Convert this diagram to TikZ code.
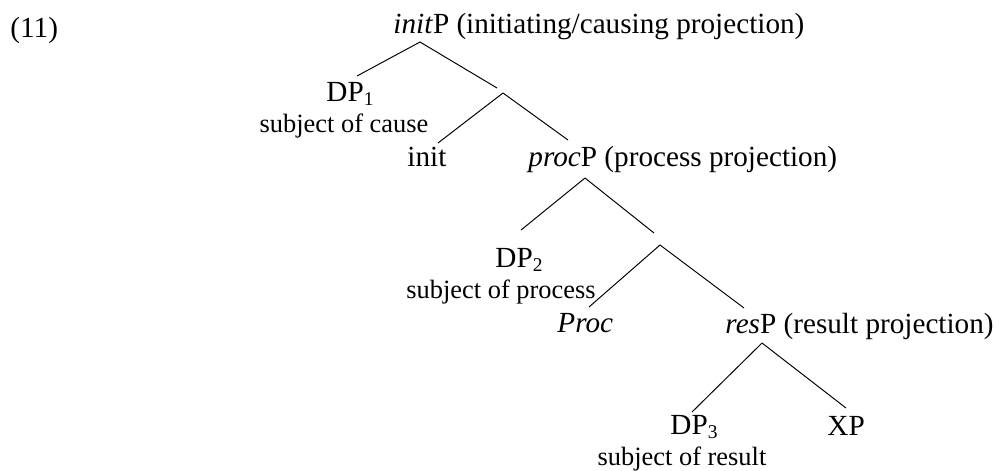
\documentclass[tikz,border=0pt]{standalone}
\usepackage{fontspec}
\setmainfont{Liberation Serif}
\begin{document}
\begin{tikzpicture}[x=0.411pt, y=-0.411pt,
    lbl/.style={inner sep=0pt, anchor=base west, font=\fontsize{12}{14}\selectfont},
    gloss/.style={inner sep=0pt, anchor=base, font=\fontsize{10.85}{13}\selectfont},
    branch/.style={line width=0.4pt},]

        \useasboundingbox (0,0) rectangle (999,470);

        % Branching points of the tree
        \coordinate (initTop) at (420,42);
        \coordinate (bar1Top) at (503,93);
        \coordinate (procTop) at (585,178);
        \coordinate (bar2Top) at (660,245);
        \coordinate (resTop) at (762,343);

        % Lower ends of the branches
        \coordinate (dp1End) at (357,76);
        \coordinate (bar1End) at (497,88);
        \coordinate (initEnd) at (438,143);
        \coordinate (procEnd) at (568,140);
        \coordinate (dp2End) at (521,230);
        \coordinate (bar2End) at (654,233);
        \coordinate (ProcEnd) at (589,307);
        \coordinate (resEnd) at (744,308);
        \coordinate (dp3End) at (692,412);
        \coordinate (xpEnd) at (846,408);

        % Draw the branches
        \draw[branch] (initTop) -- (dp1End);
        \draw[branch] (initTop) -- (bar1End);
        \draw[branch] (bar1Top) -- (initEnd);
        \draw[branch] (bar1Top) -- (procEnd);
        \draw[branch] (procTop) -- (dp2End);
        \draw[branch] (procTop) -- (bar2End);
        \draw[branch] (bar2Top) -- (ProcEnd);
        \draw[branch] (bar2Top) -- (resEnd);
        \draw[branch] (resTop) -- (dp3End);
        \draw[branch] (resTop) -- (xpEnd);

        % Example number
        \node[lbl] (exnum) at (10,37) {(11)};

        % Labels of the projections
        \node[lbl] (initP) at (393,33) {\textit{init}P (initiating/causing projection)};
        \node[lbl] (procP) at (528,166) {\textit{proc}P (process projection)};
        \node[lbl] (resP) at (725,333) {\textit{res}P (result projection)};

        % Labels of the heads and complements
        \node[lbl] (init) at (407,166) {init};
        \node[lbl] (Proc) at (557,332) {\textit{Proc}};
        \node[lbl] (XP) at (827,435) {XP};

        % Labels of the subjects
        \node[lbl] (DP1) at (326,101) {DP\textsubscript{1}};
        \node[lbl] (DP2) at (495,267) {DP\textsubscript{2}};
        \node[lbl] (DP3) at (670,434) {DP\textsubscript{3}};
        \node[gloss] (DP1gloss) at (344,132) {subject of cause};
        \node[gloss] (DP2gloss) at (501,298) {subject of process};
        \node[gloss] (DP3gloss) at (682,465) {subject of result};

    \end{tikzpicture}
\end{document}
